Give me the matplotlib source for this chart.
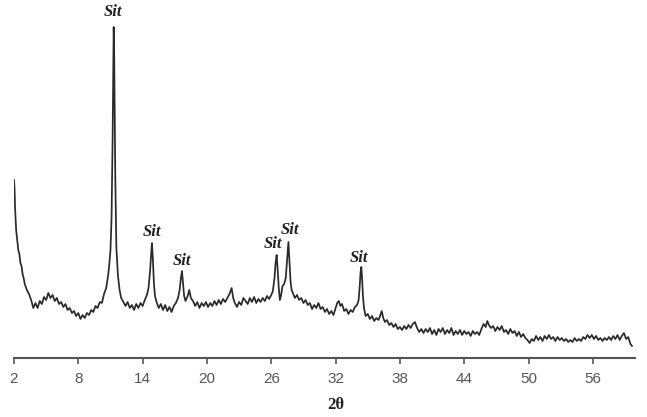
import matplotlib.pyplot as plt

# XRD pattern, intensities (arbitrary units)
two_theta = [
    2.0, 2.05, 2.1, 2.2, 2.3, 2.4, 2.5, 2.6, 2.7, 2.8, 2.9, 3.0, 3.2, 3.4, 3.6, 3.8,
    4.0, 4.2, 4.4, 4.6, 4.8, 5.0, 5.2, 5.4, 5.6, 5.8, 6.0, 6.2, 6.4, 6.6, 6.8,
    7.0, 7.2, 7.4, 7.6, 7.8, 8.0, 8.2, 8.4, 8.6, 8.8, 9.0, 9.2, 9.4, 9.6, 9.8,
    10.0, 10.2, 10.4, 10.6, 10.8, 10.9, 11.0, 11.1, 11.2, 11.3, 11.35, 11.45,
    11.55, 11.7, 11.85, 12.0, 12.2, 12.4, 12.6, 12.8, 13.0, 13.2, 13.4, 13.6,
    13.8, 14.0, 14.2, 14.4, 14.55, 14.7, 14.8, 14.87, 14.95, 15.05, 15.15, 15.3,
    15.5, 15.7, 15.9, 16.1, 16.3, 16.5, 16.7, 16.9, 17.1, 17.3, 17.45, 17.57,
    17.67, 17.77, 17.87, 18.0, 18.2, 18.35, 18.5, 18.7, 18.9, 19.1, 19.3, 19.5,
    19.7, 19.9, 20.1, 20.3, 20.5, 20.7, 20.9, 21.1, 21.3, 21.5, 21.7, 21.9,
    22.1, 22.3, 22.45, 22.6, 22.8, 23.0, 23.2, 23.4, 23.6, 23.8, 24.0, 24.2,
    24.4, 24.6, 24.8, 25.0, 25.2, 25.4, 25.6, 25.8, 26.0, 26.15, 26.3, 26.4,
    26.5, 26.6, 26.7, 26.8, 26.9, 27.05, 27.2, 27.35, 27.48, 27.6, 27.7, 27.8,
    27.9, 28.05, 28.2, 28.4, 28.6, 28.8, 29.0, 29.2, 29.4, 29.6, 29.8, 30.0,
    30.2, 30.4, 30.6, 30.8, 31.0, 31.2, 31.4, 31.6, 31.8, 32.0, 32.15, 32.3,
    32.45, 32.6, 32.8, 33.0, 33.2, 33.4, 33.6, 33.8, 34.0, 34.15, 34.25, 34.33,
    34.4, 34.47, 34.55, 34.65, 34.8, 35.0, 35.2, 35.4, 35.6, 35.8, 36.0, 36.15,
    36.3, 36.45, 36.6, 36.8, 37.0, 37.2, 37.4, 37.6, 37.8, 38.0, 38.2, 38.4,
    38.6, 38.8, 39.0, 39.2, 39.4, 39.6, 39.8, 40.0, 40.2, 40.4, 40.6, 40.8,
    41.0, 41.2, 41.4, 41.6, 41.8, 42.0, 42.2, 42.4, 42.6, 42.8, 43.0, 43.2,
    43.4, 43.6, 43.8, 44.0, 44.2, 44.4, 44.6, 44.8, 45.0, 45.2, 45.4, 45.6,
    45.8, 46.0, 46.15, 46.3, 46.5, 46.7, 46.9, 47.1, 47.3, 47.5, 47.7, 47.9,
    48.1, 48.3, 48.5, 48.7, 48.9, 49.1, 49.3, 49.5, 49.7, 49.9, 50.1, 50.3,
    50.5, 50.7, 50.9, 51.1, 51.3, 51.5, 51.7, 51.9, 52.1, 52.3, 52.5, 52.7,
    52.9, 53.1, 53.3, 53.5, 53.7, 53.9, 54.1, 54.3, 54.5, 54.7, 54.9, 55.1,
    55.3, 55.5, 55.7, 55.9, 56.1, 56.3, 56.5, 56.7, 56.9, 57.1, 57.3, 57.5,
    57.7, 57.9, 58.1, 58.3, 58.5, 58.7, 58.9, 59.1, 59.3, 59.5, 59.65,
]
intensity = [
    178, 170, 150, 128, 118, 108, 104, 95, 92, 84, 80, 74, 68, 64, 58, 50,
    55, 50, 57, 54, 61, 58, 65, 60, 63, 57, 60, 54, 56, 51, 54,
    48, 50, 45, 47, 42, 45, 39, 43, 40, 45, 43, 48, 46, 52, 50,
    56, 55, 64, 70, 84, 95, 108, 140, 220, 331, 300, 180,
    110, 82, 68, 60, 56, 52, 56, 50, 53, 48, 54, 50,
    55, 52, 58, 63, 70, 88, 105, 115, 100, 75, 62, 56,
    50, 54, 48, 53, 47, 51, 46, 52, 55, 60, 68, 80,
    87, 74, 62, 57, 62, 68, 60, 57, 52, 56, 50, 55,
    52, 56, 51, 55, 52, 57, 53, 58, 54, 59, 56, 60,
    64, 70, 60, 55, 51, 56, 53, 60, 57, 54, 60, 56,
    61, 55, 59, 56, 60, 57, 62, 59, 63, 67, 80, 95,
    103, 88, 70, 58, 62, 72, 74, 80, 98, 116, 96, 76,
    68, 64, 60, 63, 58, 60, 55, 58, 53, 55, 49, 53,
    50, 55, 49, 51, 46, 49, 44, 47, 43, 50, 55, 57,
    52, 54, 47, 49, 44, 48, 46, 51, 53, 58, 72, 86,
    91, 80, 62, 50, 42, 44, 39, 42, 37, 40, 38, 42,
    47, 40, 36, 38, 33, 35, 31, 34, 29, 31, 28, 32,
    29, 33, 30, 34, 36, 30, 26, 29, 25, 29, 26, 30,
    24, 28, 23, 29, 26, 30, 24, 28, 25, 30, 23, 27,
    24, 28, 23, 27, 24, 26, 22, 27, 24, 26, 23, 29,
    34, 31, 37, 33, 30, 32, 27, 31, 28, 32, 26, 28,
    24, 29, 25, 27, 22, 26, 21, 24, 20, 18, 15, 19,
    17, 22, 18, 21, 17, 22, 19, 23, 19, 21, 17, 21,
    18, 20, 17, 19, 16, 18, 16, 20, 17, 19, 17, 21,
    19, 23, 20, 23, 19, 22, 18, 20, 17, 20, 18, 21,
    18, 22, 19, 23, 18, 22, 25, 19, 21, 14, 12,
]

# "Sit" labels placed above the peaks
label_x = [11.25, 14.87, 17.67, 26.16, 27.75, 34.2]
label_y = [346, 126, 97, 114, 128, 100]

fig = plt.figure(figsize=(6.47, 4.17), dpi=100)
ax = fig.add_axes([14 / 647, 1 - 358 / 417, 621 / 647, 358 / 417])

ax.plot(two_theta, intensity, color='#2a2a2a', linewidth=1.25)

for x, y in zip(label_x, label_y):
    ax.text(x, y, 'Sit', ha='center', va='center', fontsize=12,
            family='Liberation Serif', style='italic', fontweight='bold',
            color='#222222')

ax.set_xlim(2, 59.93)
ax.set_ylim(0, 358)
ax.set_xticks([2, 8, 14, 20, 26, 32, 38, 44, 50, 56])
ax.tick_params(axis='x', direction='out', length=4, width=1.2, color='#555555',
               labelsize=11, labelcolor='#555555', pad=6)
ax.set_yticks([])
for side in ['top', 'right', 'left']:
    ax.spines[side].set_visible(False)
ax.spines['bottom'].set_color('#555555')
ax.spines['bottom'].set_linewidth(1.5)
for lbl in ax.get_xticklabels():
    lbl.set_family('Liberation Sans')

fig.text(336 / 647, 1 - 405 / 417, '2θ', ha='center', va='center', fontsize=12,
         family='Liberation Serif', fontweight='bold', color='#222222')

fig.savefig('out.png', dpi=100)
